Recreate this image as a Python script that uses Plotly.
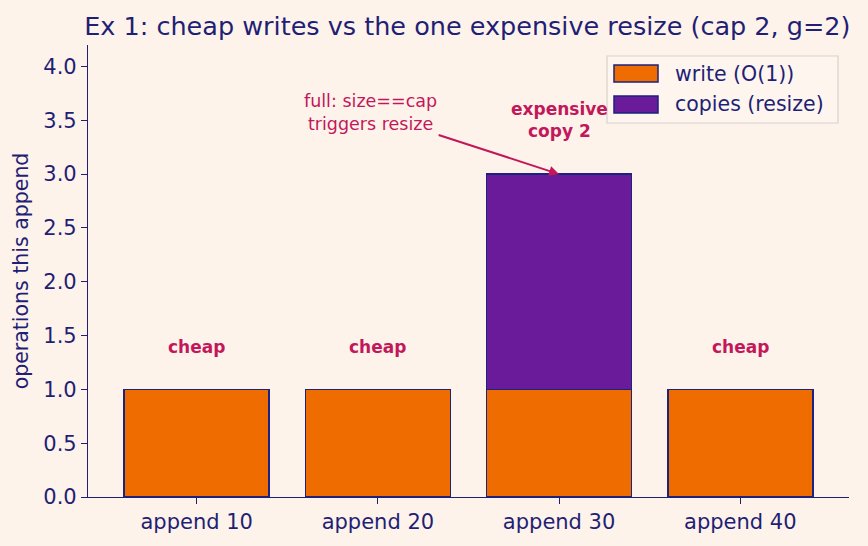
import plotly.graph_objects as go

categories = ["append 10", "append 20", "append 30", "append 40"]
writes = [1, 1, 1, 1]
copies = [0, 0, 2, 0]
cheap_labels = ["cheap", "cheap", None, "cheap"]
series_names = ["write (O(1))", "copies (resize)"]

BG = "#FEF3EA"
NAVY = "#1F1F75"
EDGE = "#1A237E"
ORANGE = "#EF6C00"
PURPLE = "#6A1B9A"
RED = "#C2185B"
FONT = "DejaVu Sans"

# plot area in pixels (for the hand-drawn legend)
L, R, T, B = 88, 849, 45, 497
def px(x):
    return (x - L) / (R - L)
def py(y):
    return (B - y) / (B - T)

fig = go.Figure()
fig.add_bar(x=categories, y=writes, name=series_names[0], marker=dict(color=ORANGE, line=dict(color=EDGE, width=1.5)), width=0.8)
fig.add_bar(x=categories, y=copies, name=series_names[1], marker=dict(color=PURPLE, line=dict(color=EDGE, width=1.5)), width=0.8)

for i, lab in enumerate(cheap_labels):
    if lab:
        fig.add_annotation(x=categories[i], y=1.39, text=f"<b>{lab}</b>", showarrow=False,
                           font=dict(color=RED, size=17, family=FONT))

fig.add_annotation(x=categories[2], y=3.5, text="<b>expensive<br>copy 2</b>", showarrow=False,
                   font=dict(color=RED, size=17, family=FONT))
fig.add_annotation(x=2, y=3.0, xref="x", yref="y", ax=0.96, ay=3.57, axref="x", ayref="y",
                   text="full: size==cap<br>triggers resize", showarrow=True, arrowhead=2,
                   arrowsize=1, arrowwidth=2, arrowcolor=RED,
                   font=dict(color=RED, size=17.5, family=FONT))

# custom legend (matplotlib-like)
shapes = [dict(type="rect", xref="paper", yref="paper", x0=px(607), x1=px(838), y0=py(123), y1=py(56),
               line=dict(color="#D8D2CC", width=1.2), fillcolor="rgba(254,245,238,0.85)", layer="above")]
sw_colors = [ORANGE, PURPLE]
sw_y = [(65, 82), (96, 113)]
for c, (y0, y1), name in zip(sw_colors, sw_y, series_names):
    shapes.append(dict(type="rect", xref="paper", yref="paper", x0=px(614), x1=px(658), y0=py(y1), y1=py(y0),
                       line=dict(color=EDGE, width=1.5), fillcolor=c, layer="above"))
    fig.add_annotation(xref="paper", yref="paper", x=px(673), y=py((y0 + y1) / 2), text=name,
                       showarrow=False, xanchor="left", yanchor="middle",
                       font=dict(size=20.5, color=NAVY, family=FONT))

fig.update_layout(
    barmode="stack",
    width=868, height=546,
    paper_bgcolor=BG, plot_bgcolor=BG,
    margin=dict(l=L, r=868 - R, t=T, b=546 - B),
    font=dict(family=FONT, color=NAVY, size=21),
    title=dict(text="Ex 1: cheap writes vs the one expensive resize (cap 2, g=2)", x=0.097, xanchor="left",
               y=0.953, yanchor="middle", font=dict(size=25.5, color=NAVY)),
    showlegend=False,
    shapes=shapes,
)
fig.update_xaxes(range=[-0.6, 3.6], showline=True, linecolor=NAVY, linewidth=1.2, ticks="outside",
                 ticklen=6, tickcolor=NAVY, showgrid=False, tickfont=dict(size=21, color=NAVY))
fig.update_yaxes(range=[0, 4.2], showline=True, linecolor=NAVY, linewidth=1.2, ticks="outside",
                 ticklen=6, tickcolor=NAVY, showgrid=False, zeroline=False, dtick=0.5, tickformat=".1f",
                 tickfont=dict(size=21, color=NAVY),
                 title=dict(text="operations this append", font=dict(size=20.5, color=NAVY), standoff=9))

fig.write_html("out.html")
